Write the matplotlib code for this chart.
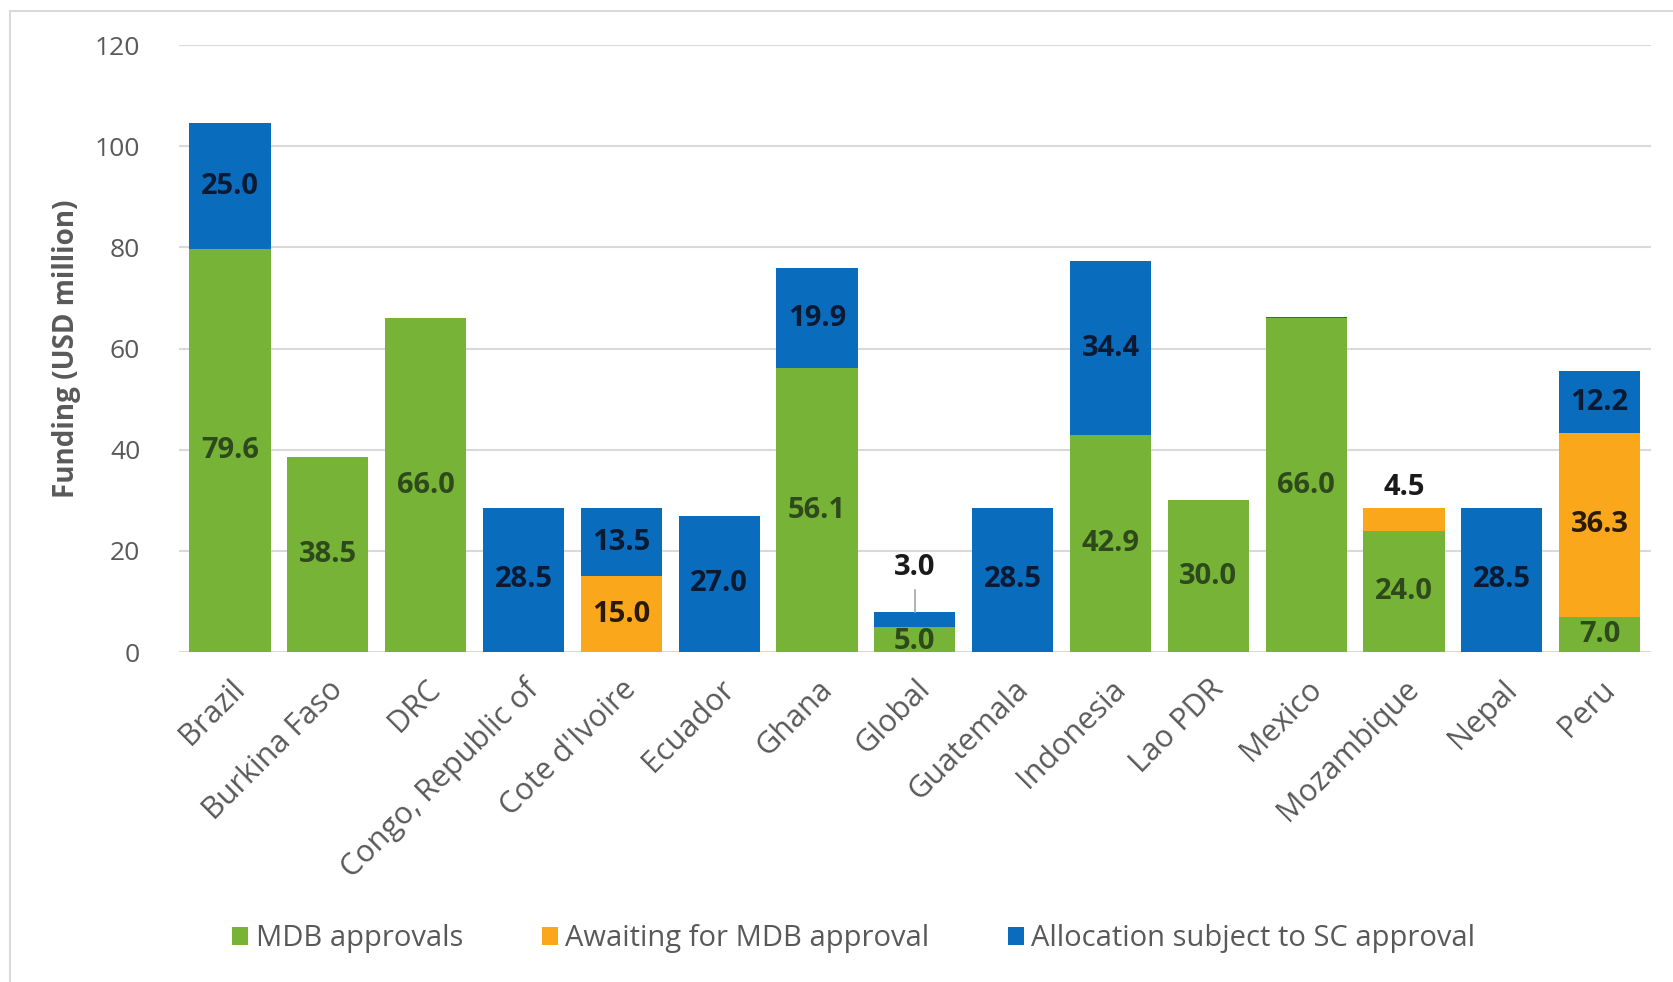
import numpy as np
import matplotlib.pyplot as plt
from matplotlib.patches import Rectangle

countries = ["Brazil", "Burkina Faso", "DRC", "Congo, Republic of", "Cote d'Ivoire",
             "Ecuador", "Ghana", "Global", "Guatemala", "Indonesia", "Lao PDR",
             "Mexico", "Mozambique", "Nepal", "Peru"]
mdb_approvals = [79.6, 38.5, 66.0, 0, 0, 0, 56.1, 5.0, 0, 42.9, 30.0, 66.0, 24.0, 0, 7.0]
awaiting = [0, 0, 0, 0, 15.0, 0, 0, 0, 0, 0, 0, 0, 4.5, 0, 36.3]
allocation = [25.0, 0, 0, 28.5, 13.5, 27.0, 19.9, 3.0, 28.5, 34.4, 0, 0.3, 0, 28.5, 12.2]

green = "#77b336"
orange = "#fba71b"
blue = "#0a6cbc"
grey = "#595959"

plt.rcParams["font.family"] = ["Open Sans", "DejaVu Sans"]

fig = plt.figure(figsize=(16.74, 9.82), dpi=100)
ax = fig.add_axes([0.107, 0.336, 0.879, 0.618])

x = np.arange(len(countries))
g = np.array(mdb_approvals)
o = np.array(awaiting)
b = np.array(allocation)
w = 0.83

ax.bar(x, g, width=w, color=green, label="MDB approvals", zorder=2)
ax.bar(x, o, width=w, bottom=g, color=orange, label="Awaiting for MDB approval", zorder=2)
ax.bar(x, b, width=w, bottom=g + o, color=blue, label="Allocation subject to SC approval", zorder=2)

# segment labels
lab = dict(fontsize=21, fontweight="bold", ha="center", va="center", zorder=3)
for i in range(len(countries)):
    if g[i] > 0:
        if countries[i] == "Global":
            ax.text(x[i], g[i] / 2 - 0.4, f"{g[i]:.1f}", color="#2e4a1c", **lab, clip_on=True)
        else:
            ax.text(x[i], g[i] / 2, f"{g[i]:.1f}", color="#2e4a1c", **lab)
    if o[i] > 0:
        if countries[i] == "Mozambique":
            ax.text(x[i], g[i] + o[i] + 4, f"{o[i]:.1f}", color="#1a1a1a", **lab)
        else:
            ax.text(x[i], g[i] + o[i] / 2, f"{o[i]:.1f}", color="#2a1a05", **lab)
    if b[i] > 1:
        if countries[i] == "Global":
            top = g[i] + o[i] + b[i]
            ax.plot([x[i], x[i]], [top, top + 4.2], color="#a6a6a6", lw=1.2, zorder=3)
            ax.text(x[i], top + 8.8, f"{b[i]:.1f}", color="#1a1a1a", **lab)
        else:
            ax.text(x[i], g[i] + o[i] + b[i] / 2, f"{b[i]:.1f}", color="#0b1a33", **lab)

ax.set_xlim(-0.52, len(countries) - 0.48)
ax.set_ylim(0, 120)
ax.set_yticks(range(0, 121, 20))
ax.yaxis.grid(True, color="#d9d9d9", lw=1.5, zorder=0)
ax.set_axisbelow(True)
for s in ax.spines.values():
    s.set_visible(False)
ax.tick_params(axis="both", length=0, labelcolor=grey)
ax.tick_params(axis="y", pad=28, labelsize=19)
ax.set_xticks(x)
ax.set_xticklabels(countries, rotation=45, ha="right", rotation_mode="anchor")
ax.tick_params(axis="x", pad=16, labelsize=22)
ax.set_ylabel("Funding (USD million)", fontsize=20, fontweight="bold", color=grey, labelpad=10)

fig.legend(loc="center", bbox_to_anchor=(0.51, 0.044), ncol=3, frameon=False,
           fontsize=21, handlelength=0.55, handleheight=0.55, handletextpad=0.25,
           columnspacing=2.7, labelcolor=grey)

fig.patches.append(Rectangle((0.006, -0.01), 1.1, 0.9987, transform=fig.transFigure,
                             fill=False, edgecolor="#d9d9d9", lw=1.5))

fig.savefig("out.png", dpi=100)
